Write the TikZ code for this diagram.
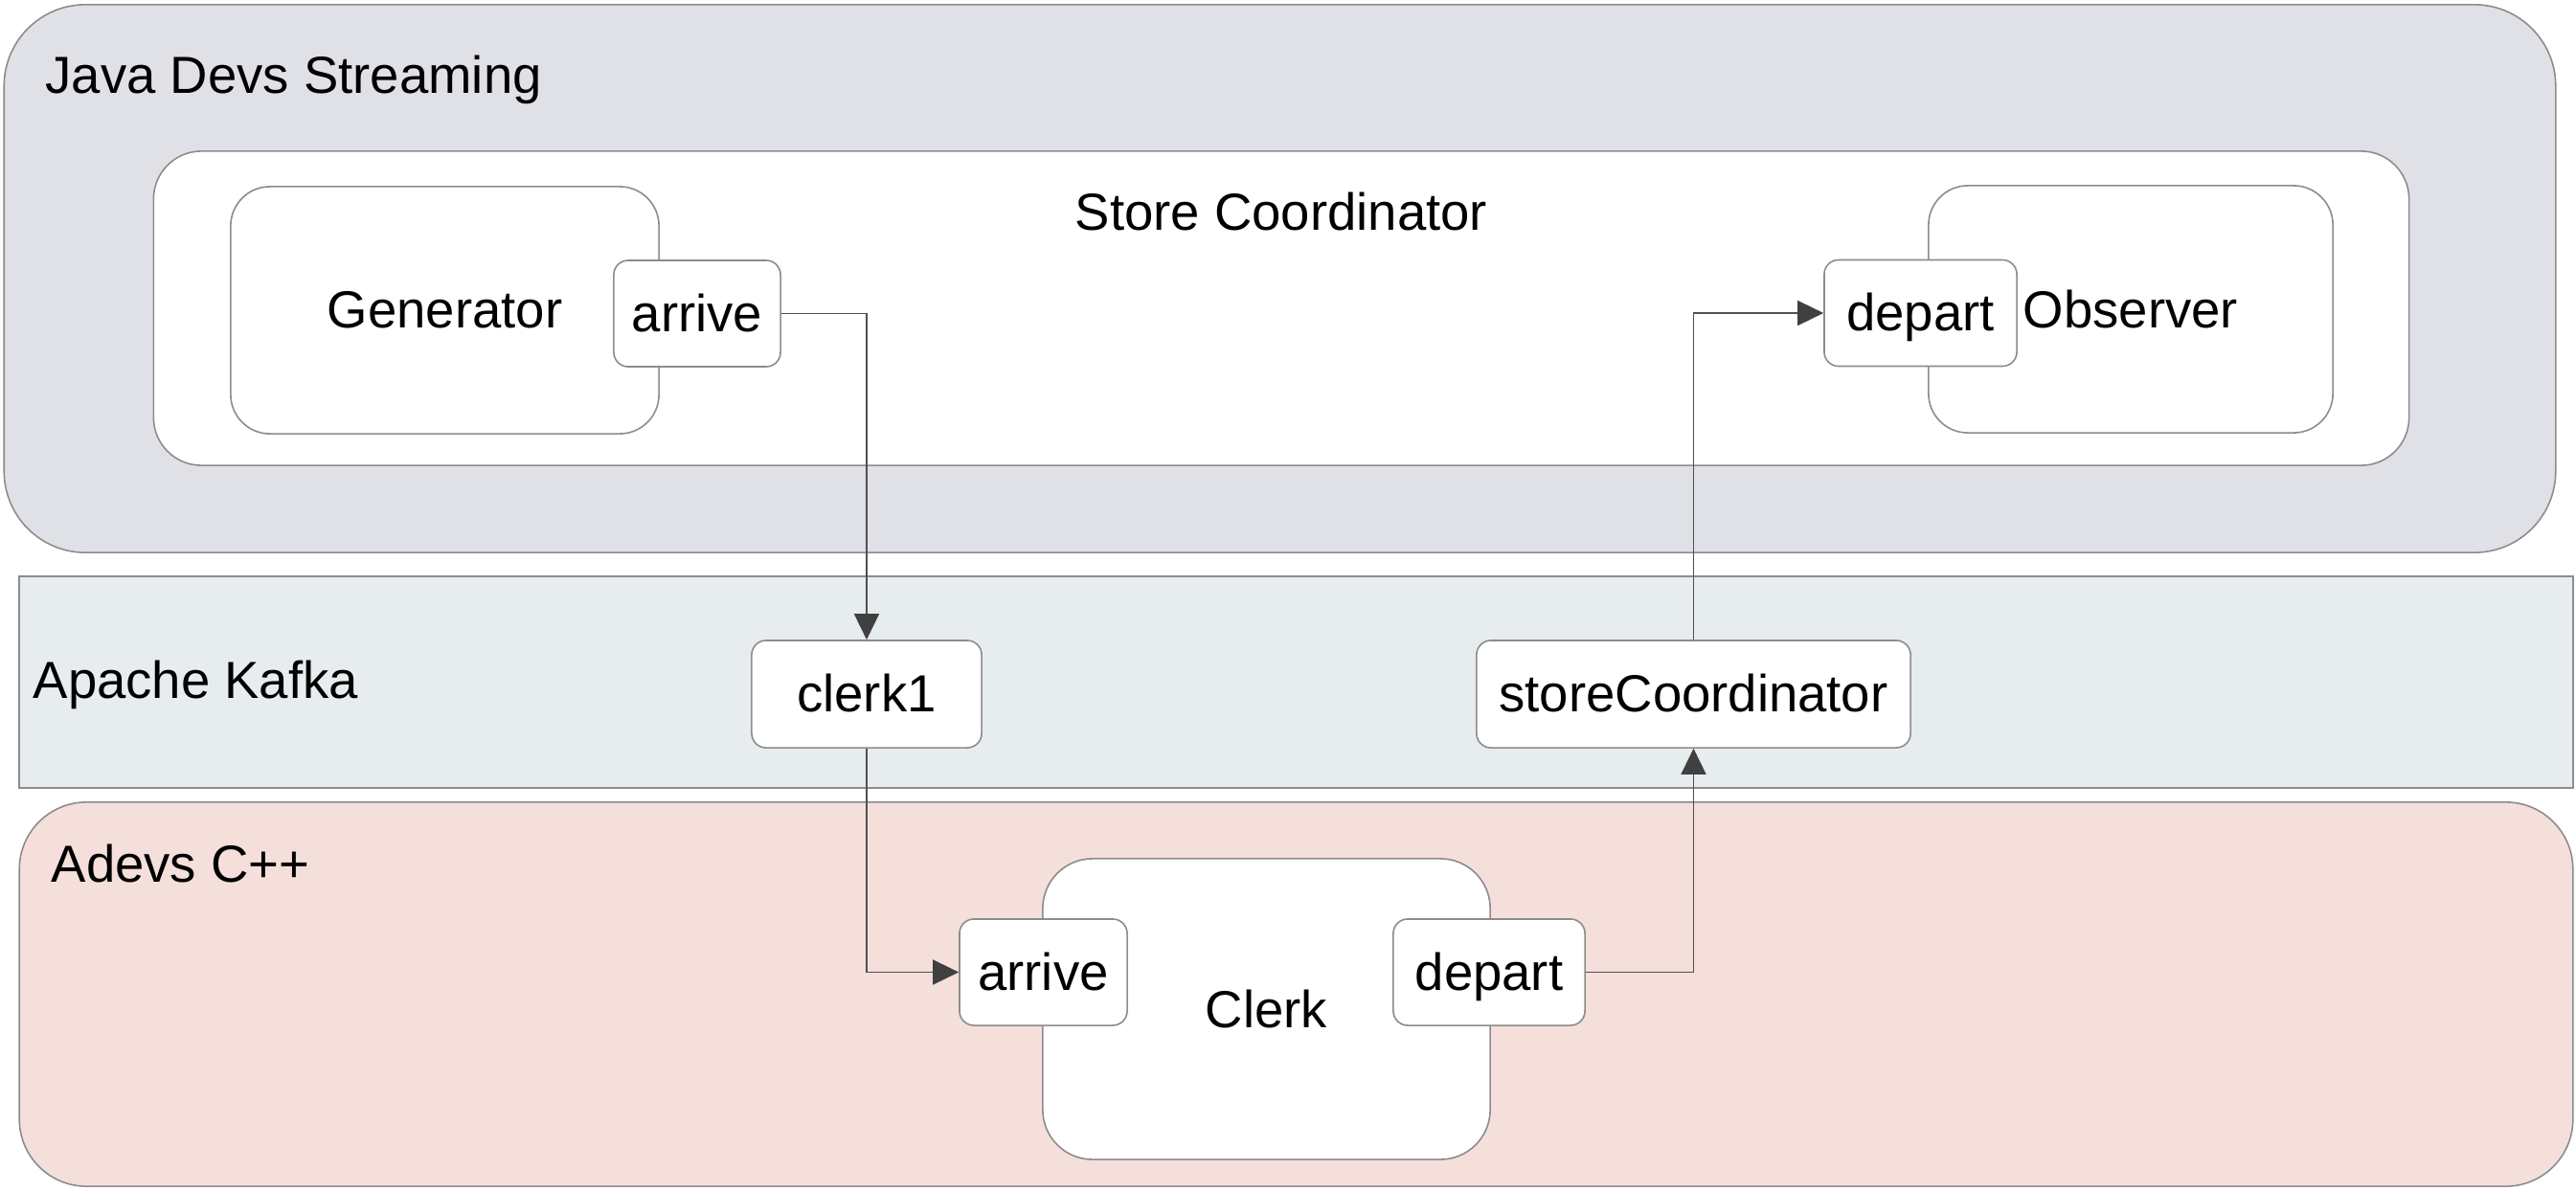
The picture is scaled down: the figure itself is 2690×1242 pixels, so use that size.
\documentclass[tikz,border=0pt]{standalone}
\usepackage{fontspec}
\setmainfont{Liberation Sans}
\usetikzlibrary{arrows.meta}

\definecolor{javabg}{HTML}{E0E1E6}
\definecolor{kafkabg}{HTML}{E7ECEE}
\definecolor{adevsbg}{HTML}{F4DFDB}
\definecolor{edge}{HTML}{8C8C8C}
\definecolor{wire}{HTML}{505050}
\definecolor{tip}{HTML}{404040}

\begin{document}
\begin{tikzpicture}[x=0.01cm, y=-0.01cm,
  font=\fontsize{15.5}{18}\selectfont,
  layer/.style={rectangle, draw=edge, line width=0.45pt, inner sep=0pt},
  model/.style={rectangle, draw=edge, fill=white, line width=0.45pt, rounded corners=0.41cm, inner sep=0pt, minimum height=2.58cm},
  port/.style={rectangle, draw=edge, fill=white, line width=0.45pt, rounded corners=0.15cm, inner sep=0pt, minimum height=1.11cm, text height=10.8pt, text depth=0pt},
  title/.style={anchor=base west, inner sep=0pt},
  line/.style={draw=wire, line width=0.45pt, -{Triangle[length=0.27cm, width=0.26cm, color=tip]}}]
\useasboundingbox (0,0) rectangle (2690,1242);
\node[layer, fill=javabg, rounded corners=0.85cm, minimum width=26.63cm, minimum height=5.72cm] (java) at (1336.5,291) {};
\node[title] (javalabel) at (47,97) {Java Devs Streaming};
\node[model, rounded corners=0.5cm, minimum width=23.54cm, minimum height=3.28cm] (store) at (1338,322) {};
\node[anchor=base, inner sep=0pt] (storelabel) at (1338,240) {Store Coordinator};
\node[model, minimum width=4.47cm] (generator) at (464.5,324) {Generator};
\node[port, minimum width=1.74cm] (genarrive) at (728,327.5) {arrive};
\node[model, minimum width=4.22cm] (observer) at (2225,323) {Observer};
\node[port, minimum width=2.01cm] (obsdepart) at (2005.5,327) {depart};
\node[layer, fill=kafkabg, minimum width=26.65cm, minimum height=2.21cm] (kafka) at (1353.5,712.5) {};
\node[title] (kafkalabel) at (34,729) {Apache Kafka};
\node[port, minimum width=2.4cm, minimum height=1.12cm] (clerk1) at (905,725) {clerk1};
\node[port, minimum width=4.53cm, minimum height=1.12cm] (storecoord) at (1768.5,725) {storeCoordinator};
\node[layer, fill=adevsbg, rounded corners=0.7cm, minimum width=26.65cm, minimum height=4.01cm] (adevs) at (1353.5,1038.5) {};
\node[title] (adevslabel) at (53,921) {Adevs C++};
\node[model, rounded corners=0.52cm, minimum width=4.67cm, minimum height=3.14cm] (clerk) at (1322.5,1054) {Clerk};
\node[port, minimum width=1.75cm] (clerkarrive) at (1089.5,1015.5) {arrive};
\node[port, minimum width=2.0cm] (clerkdepart) at (1555,1015.5) {depart};
\begin{scope}[every path/.style=line]
\path (genarrive.east) -| (clerk1.north);
\path (clerk1.south) |- (clerkarrive.west);
\path (clerkdepart.east) -| (storecoord.south);
\path (storecoord.north) |- (obsdepart.west);
\end{scope}
\end{tikzpicture}
\end{document}
